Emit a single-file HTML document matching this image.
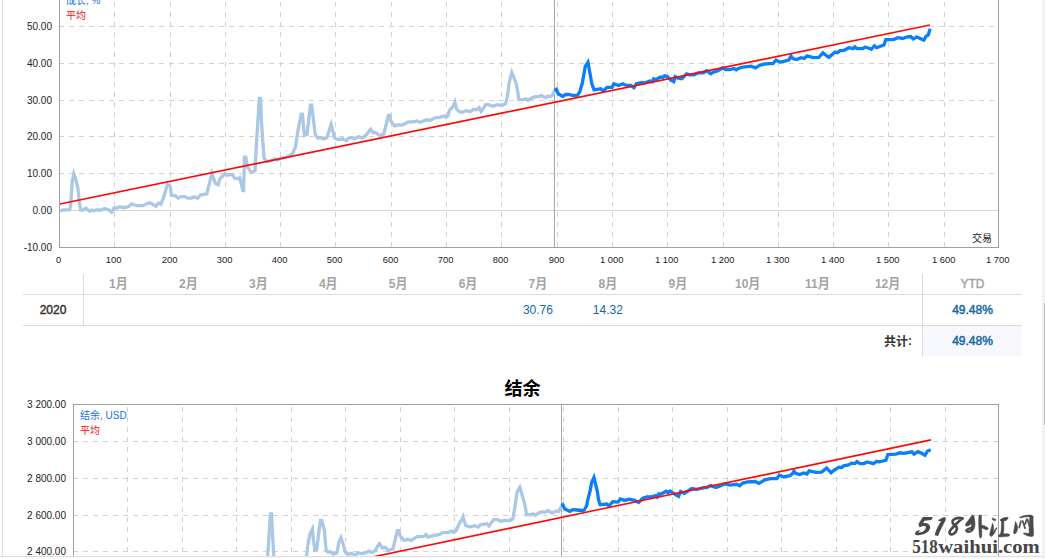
<!DOCTYPE html>
<html lang="zh">
<head>
<meta charset="utf-8">
<title>结余</title>
<style>
html,body{margin:0;padding:0;background:#fff;}
body{width:1045px;height:559px;overflow:hidden;position:relative;font-family:"Liberation Sans","Noto Sans CJK SC",sans-serif;}
#frame{position:absolute;left:0;top:0;width:1042px;height:556px;overflow:hidden;}
#lb{position:absolute;left:2px;top:0;width:1px;height:556px;background:#dcdcdc;}
#bb{position:absolute;left:0;top:556px;width:1042px;height:1px;background:#dcdcdc;}
#sb{position:absolute;left:1042px;top:0;width:3px;height:559px;background:#f1f1f1;}
#sbt{position:absolute;left:2px;top:303px;width:1px;height:122px;background:#c1c1c1;}
svg{position:absolute;left:0;top:0;overflow:hidden;}
svg text{font-family:"Liberation Sans","Noto Sans CJK SC",sans-serif;font-size:10px;fill:#222;}
svg text.wm{font-family:"Liberation Serif",serif;font-weight:bold;font-size:18.2px;fill:#454545;}
svg text.mh{font-size:12px;font-weight:bold;fill:#a3a3a3;}
.hl{position:absolute;left:23px;width:999px;height:1px;background:#dadada;}
.vl{position:absolute;width:1px;background:#dadada;}
.cell{position:absolute;font-size:12px;line-height:14px;text-align:center;white-space:nowrap;}
.val{color:#1565a7;}
.b{font-weight:normal;-webkit-text-stroke:0.45px currentColor;}
#tot{position:absolute;left:923px;top:326px;width:99px;height:30px;background:#f6f8fd;}
</style>
</head>
<body>
<div id="frame">
<svg id="charts" width="1042" height="556" viewBox="0 0 1042 556" shape-rendering="auto">
<g id="chart-growth">
<line x1="59.0" y1="26.5" x2="998.5" y2="26.5" stroke="#d2d2d2" stroke-dasharray="5 5"/>
<line x1="59.0" y1="63.5" x2="998.5" y2="63.5" stroke="#d2d2d2" stroke-dasharray="5 5"/>
<line x1="59.0" y1="100.5" x2="998.5" y2="100.5" stroke="#d2d2d2" stroke-dasharray="5 5"/>
<line x1="59.0" y1="136.5" x2="998.5" y2="136.5" stroke="#d2d2d2" stroke-dasharray="5 5"/>
<line x1="59.0" y1="173.5" x2="998.5" y2="173.5" stroke="#d2d2d2" stroke-dasharray="5 5"/>
<line x1="59.5" y1="210.5" x2="998.5" y2="210.5" stroke="#d4d4d4"/>
<line x1="114.5" y1="247" x2="114.5" y2="-13" stroke="#d2d2d2" stroke-dasharray="5 5"/>
<line x1="170.5" y1="247" x2="170.5" y2="-13" stroke="#d2d2d2" stroke-dasharray="5 5"/>
<line x1="225.5" y1="247" x2="225.5" y2="-13" stroke="#d2d2d2" stroke-dasharray="5 5"/>
<line x1="280.5" y1="247" x2="280.5" y2="-13" stroke="#d2d2d2" stroke-dasharray="5 5"/>
<line x1="335.5" y1="247" x2="335.5" y2="-13" stroke="#d2d2d2" stroke-dasharray="5 5"/>
<line x1="391.5" y1="247" x2="391.5" y2="-13" stroke="#d2d2d2" stroke-dasharray="5 5"/>
<line x1="446.5" y1="247" x2="446.5" y2="-13" stroke="#d2d2d2" stroke-dasharray="5 5"/>
<line x1="501.5" y1="247" x2="501.5" y2="-13" stroke="#d2d2d2" stroke-dasharray="5 5"/>
<line x1="557.5" y1="247" x2="557.5" y2="-13" stroke="#d2d2d2" stroke-dasharray="5 5"/>
<line x1="612.5" y1="247" x2="612.5" y2="-13" stroke="#d2d2d2" stroke-dasharray="5 5"/>
<line x1="667.5" y1="247" x2="667.5" y2="-13" stroke="#d2d2d2" stroke-dasharray="5 5"/>
<line x1="723.5" y1="247" x2="723.5" y2="-13" stroke="#d2d2d2" stroke-dasharray="5 5"/>
<line x1="778.5" y1="247" x2="778.5" y2="-13" stroke="#d2d2d2" stroke-dasharray="5 5"/>
<line x1="833.5" y1="247" x2="833.5" y2="-13" stroke="#d2d2d2" stroke-dasharray="5 5"/>
<line x1="888.5" y1="247" x2="888.5" y2="-13" stroke="#d2d2d2" stroke-dasharray="5 5"/>
<line x1="944.5" y1="247" x2="944.5" y2="-13" stroke="#d2d2d2" stroke-dasharray="5 5"/>
<line x1="554.5" y1="-11" x2="554.5" y2="247" stroke="#a6a6a6"/>
<rect x="59.5" y="-10.5" width="939.0" height="258.0" fill="none" stroke="#a0a0a0"/>
<polyline points="60.0,211.0 62.9,210.0 69.4,209.6 70.5,207.4 72.3,181.0 73.8,173.9 76.0,180.2 78.0,188.8 79.4,203.1 80.8,210.0 83.0,210.0 85.8,208.1 89.4,211.0 91.6,210.0 93.8,210.7 96.6,210.0 100.9,210.0 104.5,208.6 108.8,210.0 111.6,212.3 113.8,208.1 116.7,208.1 119.6,206.7 123.2,207.7 128.2,206.7 131.8,203.8 136.8,205.7 142.6,205.7 146.9,203.8 149.7,202.8 152.6,204.3 155.9,206.4 158.6,203.1 160.9,204.3 164.1,195.9 167.3,184.5 170.1,186.1 171.5,195.3 175.6,195.9 178.1,198.1 181.3,196.6 184.9,196.6 187.8,198.1 191.4,198.1 193.8,196.8 197.6,198.3 200.7,194.8 206.8,194.0 209.6,182.6 211.8,173.4 215.4,183.3 218.2,184.8 219.7,179.4 224.8,173.5 227.2,175.2 231.0,174.5 232.7,174.5 234.4,178.1 237.9,178.7 239.7,177.6 242.9,190.5 243.6,190.5 244.5,157.2 245.7,157.2 247.6,167.2 251.2,172.5 255.1,170.7 256.2,147.2 258.4,112.9 259.3,98.4 260.6,98.4 261.6,123.6 264.0,158.0 267.2,161.7 272.3,160.1 275.4,158.8 277.6,160.1 280.8,158.4 287.3,156.9 292.6,153.7 295.4,147.2 298.4,127.9 301.2,114.1 302.4,114.1 304.4,135.4 307.0,134.4 310.5,105.2 311.7,105.2 315.2,134.4 317.9,138.2 320.2,137.6 323.9,138.9 327.0,137.6 331.1,124.4 334.5,137.6 335.9,138.8 338.6,139.6 342.2,138.8 346.4,140.7 349.0,137.9 352.9,137.9 354.7,138.8 358.3,136.6 361.8,137.9 365.4,136.1 368.8,131.5 370.6,129.2 373.1,132.7 375.2,132.3 379.4,135.5 383.7,134.1 386.0,125.2 388.4,115.5 389.6,115.5 390.9,121.2 394.6,125.8 398.6,124.6 402.1,125.3 408.4,121.8 413.8,121.8 417.0,120.9 420.0,122.3 426.3,120.0 430.8,120.0 435.2,117.8 439.7,117.3 444.2,115.8 446.2,117.4 448.2,115.5 449.4,110.4 453.1,106.4 454.9,102.2 456.3,108.6 458.3,110.9 461.7,112.4 466.3,110.7 470.1,111.8 473.2,109.5 477.0,109.5 479.2,107.6 481.0,111.5 482.2,110.3 485.7,104.6 488.6,104.6 492.9,106.2 497.2,104.6 501.5,105.6 505.8,103.8 508.0,92.0 509.1,83.0 511.8,72.6 516.0,83.0 517.8,92.0 518.8,99.5 523.1,99.8 525.9,98.8 528.1,100.2 531.7,98.1 535.3,96.7 538.8,96.7 541.0,95.4 543.2,96.7 546.0,97.4 548.2,96.0 550.3,96.7 552.5,95.2 554.5,90.6" fill="none" stroke="#aac8e6" stroke-width="3.3" stroke-linejoin="miter" stroke-miterlimit="8" stroke-linecap="butt"/>
<polyline points="554.5,90.6 556.4,89.3 558.2,93.8 562.9,96.5 565.4,94.5 569.0,94.5 573.3,95.5 577.6,95.2 579.8,91.6 582.1,84.0 585.3,66.4 588.0,62.3 591.9,84.0 594.1,89.8 600.6,88.8 603.2,91.1 607.0,87.3 612.0,87.3 613.9,83.8 618.5,85.5 622.8,83.8 625.7,85.2 630.7,85.3 633.9,87.6 636.5,83.8 642.2,82.4 644.4,83.1 650.1,81.0 652.3,81.7 653.7,78.8 655.9,79.5 660.7,77.1 662.6,77.5 664.5,75.9 667.3,76.6 670.9,80.2 673.8,81.7 675.2,76.6 678.1,78.1 681.7,78.8 686.7,73.8 689.6,74.8 693.9,74.8 698.2,72.8 703.2,72.8 706.7,70.8 710.7,73.8 714.0,71.9 716.9,71.3 722.6,68.0 725.5,69.5 729.8,69.5 734.1,68.5 736.2,69.9 738.4,68.5 742.7,67.0 747.0,66.6 751.3,66.2 755.5,68.0 759.9,65.2 764.2,64.2 768.5,63.7 772.9,63.7 776.0,60.0 780.1,62.1 784.6,61.2 788.7,60.1 791.0,56.1 792.8,58.5 796.8,59.6 800.9,57.7 804.2,58.5 807.1,55.9 813.1,57.7 818.8,57.5 822.9,52.8 825.3,54.7 828.8,57.3 835.1,52.0 837.5,52.6 840.0,50.7 844.0,50.3 848.9,47.7 853.0,48.6 854.9,46.7 857.0,48.7 862.7,48.7 865.2,47.1 867.6,47.7 871.4,49.3 874.4,45.8 876.6,47.7 883.9,45.0 885.8,39.6 893.6,39.6 897.7,37.7 902.6,38.5 907.5,36.8 910.7,36.5 913.2,38.9 916.7,37.0 921.3,39.0 923.9,40.2 926.2,36.0 928.1,35.2 930.2,28.7" fill="none" stroke="#0780fa" stroke-width="3.3" stroke-linejoin="miter" stroke-miterlimit="8" stroke-linecap="butt"/>
<line x1="60" y1="204" x2="930" y2="25" stroke="#ff0808" stroke-width="1.6"/>
<text x="52" y="30.4" text-anchor="end">50.00</text>
<text x="52" y="67.4" text-anchor="end">40.00</text>
<text x="52" y="104.4" text-anchor="end">30.00</text>
<text x="52" y="140.4" text-anchor="end">20.00</text>
<text x="52" y="177.4" text-anchor="end">10.00</text>
<text x="52" y="214.4" text-anchor="end">0.00</text>
<text x="52" y="251.4" text-anchor="end">-10.00</text>
<text x="58.7" y="263.2" text-anchor="middle" style="font-size:9.4px">0</text>
<text x="113.7" y="263.2" text-anchor="middle" style="font-size:9.4px">100</text>
<text x="169.7" y="263.2" text-anchor="middle" style="font-size:9.4px">200</text>
<text x="224.7" y="263.2" text-anchor="middle" style="font-size:9.4px">300</text>
<text x="279.7" y="263.2" text-anchor="middle" style="font-size:9.4px">400</text>
<text x="334.7" y="263.2" text-anchor="middle" style="font-size:9.4px">500</text>
<text x="390.7" y="263.2" text-anchor="middle" style="font-size:9.4px">600</text>
<text x="445.7" y="263.2" text-anchor="middle" style="font-size:9.4px">700</text>
<text x="500.7" y="263.2" text-anchor="middle" style="font-size:9.4px">800</text>
<text x="556.7" y="263.2" text-anchor="middle" style="font-size:9.4px">900</text>
<text x="611.7" y="263.2" text-anchor="middle" style="font-size:9.4px">1 000</text>
<text x="666.7" y="263.2" text-anchor="middle" style="font-size:9.4px">1 100</text>
<text x="722.7" y="263.2" text-anchor="middle" style="font-size:9.4px">1 200</text>
<text x="777.7" y="263.2" text-anchor="middle" style="font-size:9.4px">1 300</text>
<text x="832.7" y="263.2" text-anchor="middle" style="font-size:9.4px">1 400</text>
<text x="887.7" y="263.2" text-anchor="middle" style="font-size:9.4px">1 500</text>
<text x="943.7" y="263.2" text-anchor="middle" style="font-size:9.4px">1 600</text>
<text x="997.7" y="263.2" text-anchor="middle" style="font-size:9.4px">1 700</text>
<text x="66" y="4.0" style="fill:#1a6fe0">成长</text>
<text x="86.0" y="4.0" style="fill:#1a6fe0">, %</text>
<text x="66" y="18.9" style="fill:#f01010">平均</text>
<text x="972" y="242" style="fill:#222">交易</text>
</g>
<g id="chart-balance">
<line x1="73.0" y1="441.5" x2="998.5" y2="441.5" stroke="#d2d2d2" stroke-dasharray="5 5"/>
<line x1="73.0" y1="478.5" x2="998.5" y2="478.5" stroke="#d2d2d2" stroke-dasharray="5 5"/>
<line x1="73.0" y1="515.5" x2="998.5" y2="515.5" stroke="#d2d2d2" stroke-dasharray="5 5"/>
<line x1="73.0" y1="551.5" x2="998.5" y2="551.5" stroke="#d2d2d2" stroke-dasharray="5 5"/>
<line x1="127.5" y1="662" x2="127.5" y2="405" stroke="#d2d2d2" stroke-dasharray="5 5"/>
<line x1="182.5" y1="662" x2="182.5" y2="405" stroke="#d2d2d2" stroke-dasharray="5 5"/>
<line x1="236.5" y1="662" x2="236.5" y2="405" stroke="#d2d2d2" stroke-dasharray="5 5"/>
<line x1="291.5" y1="662" x2="291.5" y2="405" stroke="#d2d2d2" stroke-dasharray="5 5"/>
<line x1="345.5" y1="662" x2="345.5" y2="405" stroke="#d2d2d2" stroke-dasharray="5 5"/>
<line x1="400.5" y1="662" x2="400.5" y2="405" stroke="#d2d2d2" stroke-dasharray="5 5"/>
<line x1="454.5" y1="662" x2="454.5" y2="405" stroke="#d2d2d2" stroke-dasharray="5 5"/>
<line x1="509.5" y1="662" x2="509.5" y2="405" stroke="#d2d2d2" stroke-dasharray="5 5"/>
<line x1="563.5" y1="662" x2="563.5" y2="405" stroke="#d2d2d2" stroke-dasharray="5 5"/>
<line x1="618.5" y1="662" x2="618.5" y2="405" stroke="#d2d2d2" stroke-dasharray="5 5"/>
<line x1="672.5" y1="662" x2="672.5" y2="405" stroke="#d2d2d2" stroke-dasharray="5 5"/>
<line x1="727.5" y1="662" x2="727.5" y2="405" stroke="#d2d2d2" stroke-dasharray="5 5"/>
<line x1="781.5" y1="662" x2="781.5" y2="405" stroke="#d2d2d2" stroke-dasharray="5 5"/>
<line x1="836.5" y1="662" x2="836.5" y2="405" stroke="#d2d2d2" stroke-dasharray="5 5"/>
<line x1="890.5" y1="662" x2="890.5" y2="405" stroke="#d2d2d2" stroke-dasharray="5 5"/>
<line x1="945.5" y1="662" x2="945.5" y2="405" stroke="#d2d2d2" stroke-dasharray="5 5"/>
<line x1="561.5" y1="404" x2="561.5" y2="560" stroke="#a6a6a6"/>
<rect x="73.5" y="404.5" width="925.0" height="300" fill="none" stroke="#a0a0a0"/>
<polyline points="73.8,625.6 76.7,624.6 83.1,624.2 84.1,622.0 85.9,595.7 87.4,588.7 89.6,594.9 91.5,603.5 92.9,617.7 94.3,624.6 96.5,624.6 99.3,622.7 102.8,625.6 104.9,624.6 107.1,625.3 109.9,624.6 114.1,624.6 117.6,623.2 121.9,624.6 124.7,626.8 126.8,622.7 129.7,622.7 132.5,621.3 136.1,622.3 141.0,621.3 144.6,618.4 149.5,620.3 155.2,620.3 159.4,618.4 162.2,617.4 165.1,618.9 168.3,621.0 171.0,617.7 173.2,618.9 176.4,610.5 179.5,599.1 182.3,600.8 183.7,609.9 187.7,610.5 190.2,612.7 193.3,611.2 196.9,611.2 199.7,612.7 203.3,612.7 205.7,611.4 209.4,613.0 212.5,609.4 218.5,608.6 221.2,597.3 223.4,588.1 226.9,598.0 229.7,599.5 231.2,594.1 236.2,588.2 238.6,589.9 242.3,589.2 244.0,589.2 245.7,592.8 249.1,593.4 250.9,592.3 254.0,605.2 254.7,605.2 255.6,571.9 256.8,571.9 258.7,581.9 262.2,587.2 266.1,585.4 267.2,562.0 269.4,530.2 270.4,513.8 271.5,513.8 272.7,537.4 274.8,572.7 278.0,576.4 283.0,574.8 286.1,573.5 288.2,574.8 291.4,573.1 297.8,571.6 303.0,568.5 305.8,562.0 308.1,543.2 310.0,533.8 312.4,528.9 313.4,540.0 314.9,550.3 316.7,549.6 318.9,531.7 320.5,520.3 321.7,520.3 324.4,530.2 326.1,550.3 328.2,552.2 330.2,551.8 333.3,553.9 336.8,553.2 339.0,541.7 340.9,537.7 343.3,544.6 345.4,552.5 348.3,554.4 351.2,553.5 355.5,554.9 358.4,552.9 361.2,553.6 364.8,553.2 368.8,551.1 372.0,552.5 375.2,550.7 378.0,545.5 379.5,543.8 382.4,548.1 385.1,547.2 388.4,550.6 393.0,548.7 395.3,539.2 397.4,530.7 398.6,530.7 400.1,535.8 403.9,540.4 407.9,539.2 411.0,540.7 417.1,536.6 424.0,536.4 426.0,534.5 428.1,537.2 434.0,535.4 438.9,534.7 443.0,532.6 447.9,532.6 451.9,531.0 454.2,532.3 456.2,530.5 459.1,523.9 462.0,519.4 463.0,516.9 464.3,521.6 465.7,525.4 469.5,527.0 474.6,525.7 478.1,527.1 480.4,524.8 487.0,523.7 488.9,525.9 493.9,519.6 497.5,519.6 500.8,521.4 504.8,520.1 509.7,520.8 512.9,518.5 514.4,510.0 515.8,501.0 517.0,492.4 519.8,487.3 523.9,501.0 525.9,510.0 526.4,514.7 530.8,514.7 533.0,513.9 534.9,515.2 539.0,512.8 542.2,512.0 545.5,512.0 547.9,510.5 552.0,513.1 556.0,511.2 558.5,511.5 561.5,506.2" fill="none" stroke="#aac8e6" stroke-width="3.3" stroke-linejoin="miter" stroke-miterlimit="8" stroke-linecap="butt"/>
<polyline points="561.5,506.2 562.8,504.9 564.8,508.9 570.0,511.3 572.6,509.7 577.0,510.0 581.8,510.5 584.3,510.0 586.7,505.6 587.7,500.0 590.1,491.0 591.6,482.4 593.9,477.5 597.3,491.0 598.6,500.0 600.2,504.8 606.7,504.0 608.9,506.0 612.8,501.6 618.1,502.1 620.4,498.9 624.6,500.4 629.0,499.1 634.7,500.4 638.6,502.5 642.8,498.3 647.7,496.7 650.2,497.2 655.9,495.6 657.2,497.0 659.1,493.8 660.7,494.3 666.3,491.3 668.1,492.6 670.2,491.0 675.4,494.7 678.6,496.4 680.6,491.5 684.3,493.4 691.7,488.6 696.5,489.4 703.0,487.8 707.1,487.3 710.7,485.6 715.8,487.6 720.9,485.8 724.9,483.8 729.8,485.1 736.3,484.3 739.7,485.8 742.8,483.1 747.7,481.8 755.0,481.5 758.9,483.3 764.7,479.9 770.4,478.6 776.9,478.6 779.3,475.0 783.4,476.9 790.0,475.6 792.4,473.7 794.0,471.1 795.6,473.4 799.7,474.5 803.8,472.9 807.0,474.0 809.1,470.8 816.0,472.4 821.7,472.1 826.6,468.0 828.2,469.6 831.0,472.7 833.9,470.4 838.8,467.2 841.2,467.7 843.6,465.9 847.7,465.2 851.8,463.1 855.0,463.6 856.9,461.7 859.9,463.6 864.0,463.6 867.2,462.0 873.4,463.7 876.6,461.3 878.8,461.8 885.9,460.3 887.9,454.5 895.8,454.2 900.3,452.8 903.8,453.3 911.9,451.9 914.0,454.2 917.9,451.7 921.7,453.3 924.9,455.3 927.6,451.0 930.7,449.7" fill="none" stroke="#0780fa" stroke-width="3.3" stroke-linejoin="miter" stroke-miterlimit="8" stroke-linecap="butt"/>
<line x1="73.9" y1="619.6" x2="931" y2="439.9" stroke="#ff0808" stroke-width="1.6"/>
<text x="66" y="408.4" text-anchor="end">3 200.00</text>
<text x="66" y="445.4" text-anchor="end">3 000.00</text>
<text x="66" y="482.4" text-anchor="end">2 800.00</text>
<text x="66" y="519.4" text-anchor="end">2 600.00</text>
<text x="66" y="555.4" text-anchor="end">2 400.00</text>
<text x="80" y="419.4" style="fill:#1a6fe0">结余</text>
<text x="100.0" y="419.4" style="fill:#1a6fe0">, USD</text>
<text x="80" y="434.2" style="fill:#f01010">平均</text>
</g>
<g id="months">
<g transform="translate(109.1 288.4) scale(1 1.1)"><text x="0" y="0" class="mh">1月</text></g>
<g transform="translate(179.0 288.4) scale(1 1.1)"><text x="0" y="0" class="mh">2月</text></g>
<g transform="translate(249.0 288.4) scale(1 1.1)"><text x="0" y="0" class="mh">3月</text></g>
<g transform="translate(318.9 288.4) scale(1 1.1)"><text x="0" y="0" class="mh">4月</text></g>
<g transform="translate(388.8 288.4) scale(1 1.1)"><text x="0" y="0" class="mh">5月</text></g>
<g transform="translate(458.7 288.4) scale(1 1.1)"><text x="0" y="0" class="mh">6月</text></g>
<g transform="translate(528.6 288.4) scale(1 1.1)"><text x="0" y="0" class="mh">7月</text></g>
<g transform="translate(598.5 288.4) scale(1 1.1)"><text x="0" y="0" class="mh">8月</text></g>
<g transform="translate(668.5 288.4) scale(1 1.1)"><text x="0" y="0" class="mh">9月</text></g>
<g transform="translate(735.0 288.4) scale(1 1.1)"><text x="0" y="0" class="mh">10月</text></g>
<g transform="translate(805.0 288.4) scale(1 1.1)"><text x="0" y="0" class="mh">11月</text></g>
<g transform="translate(874.9 288.4) scale(1 1.1)"><text x="0" y="0" class="mh">12月</text></g>
</g>
<text id="total-label" x="884" y="345.6" style="font-size:12px;font-weight:bold;fill:#333">共计</text>
<text x="908.0" y="345" style="font-size:12px;font-weight:bold;fill:#333">:</text>
<text id="title" x="504.5" y="394.6" style="font-size:18px;font-weight:bold;fill:#000">结余</text>
<g id="logo" fill="#4a4a4a" role="img" aria-label="518外汇网 518waihui.com">
<g transform="translate(910 510) scale(0.05742)"><path d="M225,122 L398,122 L372,176 L252,186 L228,230 C285,220 348,242 350,302 C352,372 272,432 152,440 C108,442 86,430 88,400 C92,374 130,356 162,347 L170,369 C150,376 142,386 154,391 C205,396 272,360 276,305 C278,268 228,276 166,299 L146,242 Z"/><path d="M572,130 L612,126 L622,166 C584,262 524,352 490,452 L430,438 C446,358 498,262 542,198 L492,190 L500,168 Z"/><path d="M912,143 C860,132 785,140 748,176 C722,212 750,250 792,276 C832,302 822,372 762,412 C722,436 680,422 690,382 C700,332 782,272 832,216 C872,176 900,156 918,146" fill="none" stroke="#4a4a4a" stroke-width="46" stroke-linecap="round" stroke-linejoin="round"/></g>
<g transform="translate(962 510) scale(0.05365)" fill-rule="evenodd" stroke="#4a4a4a" stroke-width="10" stroke-linejoin="round"><path d="M188,93 L216,97 C238,170 252,262 236,322 C220,392 170,428 108,422 C68,416 54,390 70,364 C92,340 135,335 166,318 C176,298 180,270 175,250 C150,282 108,302 80,300 C58,290 64,262 82,238 C122,188 162,140 188,93 Z M124,366 L160,358 L150,386 L120,390 Z"/><path d="M318,95 L364,99 C354,200 376,400 368,500 L345,528 L326,505 C320,400 302,250 318,95 Z"/><path d="M352,278 C400,286 452,306 488,336 C494,358 472,372 450,368 C410,356 380,341 352,328 Z"/><path d="M560,152 C590,150 625,165 636,185 C630,200 600,200 585,192 C570,180 560,170 560,152 Z"/><path d="M570,248 C596,300 596,400 574,462 C580,430 606,376 640,328 L650,340 C622,404 584,474 550,492 C520,494 512,462 522,420 C538,360 554,300 570,248 Z"/><path d="M712,182 C740,150 820,130 858,140 C868,160 840,190 800,200 C770,210 740,215 722,205 Z"/><path d="M735,195 L782,190 C770,260 790,340 776,400 L770,450 L716,452 C740,380 735,280 735,195 Z"/><path d="M682,472 C698,446 760,450 800,444 C842,436 872,442 894,466 C882,494 840,496 800,496 C760,498 708,506 682,500 Z"/></g><g transform="translate(995 510) scale(0.05365)" stroke="#4a4a4a" stroke-width="10" stroke-linejoin="round"><path d="M383,214 C400,250 425,300 420,345 C415,400 395,440 362,446 C340,440 345,410 352,380 C362,330 372,270 383,214 Z"/><path d="M455,138 C490,118 560,100 620,95 C660,92 700,98 712,120 C706,200 712,300 718,400 C722,450 722,480 700,492 C660,506 580,474 528,442 C526,430 540,424 560,428 C600,436 625,440 638,434 C630,340 640,220 650,134 C620,118 560,128 500,142 C480,148 462,150 455,138 Z"/><path d="M482,210 L452,328 M515,205 L560,338 M592,172 L562,262 M608,182 L640,292" fill="none" stroke="#585858" stroke-width="34" stroke-linecap="round"/></g>
<text x="912.2" y="553.2" textLength="25.6" lengthAdjust="spacingAndGlyphs" class="wm">518</text>
<text x="938.2" y="553.2" textLength="101.6" lengthAdjust="spacingAndGlyphs" class="wm">waihui.com</text>
</g>
</svg>
<div class="hl" style="top:294px"></div>
<div class="hl" style="top:325px"></div>
<div class="vl" style="left:83px;top:274px;height:51px"></div>
<div class="vl" style="left:922px;top:274px;height:82px"></div>
<div id="tot"></div>
<div class="cell b" style="left:23px;top:303px;width:60px;color:#333">2020</div>
<div class="cell val" style="left:503.0px;top:303px;width:69.9px">30.76</div>
<div class="cell val" style="left:572.9px;top:303px;width:69.9px">14.32</div>
<div class="cell b" style="left:923px;top:277px;width:99px;color:#a3a3a3">YTD</div>
<div class="cell b val" style="left:923px;top:303px;width:99px">49.48%</div>
<div class="cell b val" style="left:923px;top:334px;width:99px">49.48%</div>
<div id="lb"></div>
</div>
<div id="bb"></div>
<div id="sb"><div id="sbt"></div></div>
</body>
</html>
